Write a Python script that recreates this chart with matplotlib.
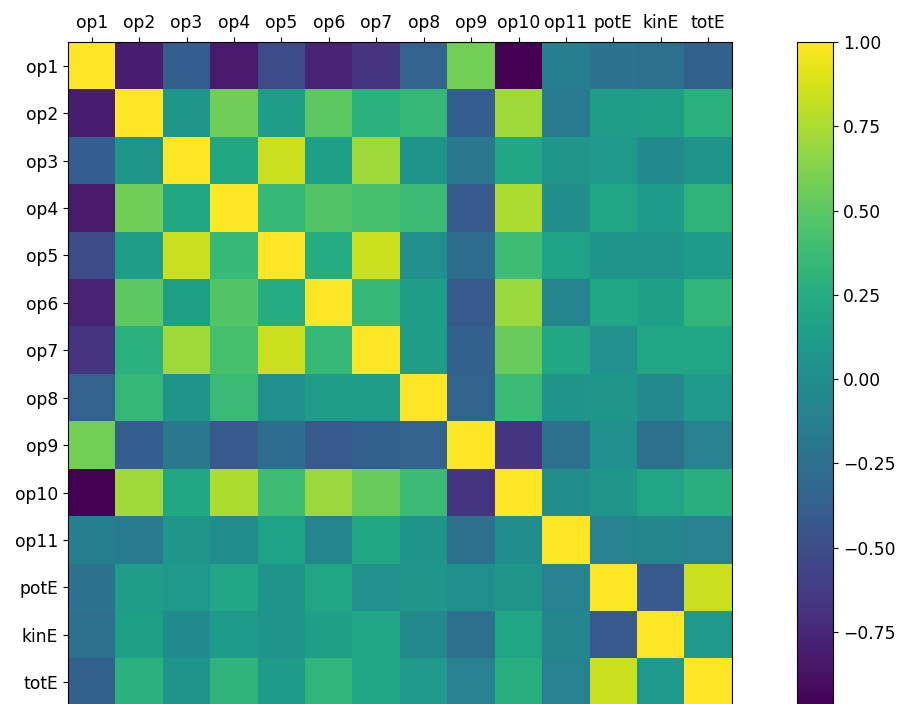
import matplotlib
matplotlib.use("Agg")
import matplotlib.pyplot as plt
import numpy as np

labels = ["op1", "op2", "op3", "op4", "op5", "op6", "op7", "op8", "op9", "op10", "op11", "potE", "kinE", "totE"]

# correlation matrix, rows/cols in the order of labels
corr = [
    [1.00, -0.81, -0.38, -0.83, -0.52, -0.78, -0.67, -0.35, 0.58, -0.97, -0.12, -0.22, -0.24, -0.36],
    [-0.81, 1.00, 0.07, 0.57, 0.13, 0.50, 0.29, 0.34, -0.38, 0.72, -0.16, 0.13, 0.15, 0.29],
    [-0.38, 0.07, 1.00, 0.21, 0.84, 0.15, 0.72, 0.05, -0.18, 0.21, 0.07, 0.09, -0.02, 0.05],
    [-0.83, 0.57, 0.21, 1.00, 0.35, 0.47, 0.43, 0.37, -0.42, 0.76, 0.00, 0.19, 0.11, 0.31],
    [-0.52, 0.13, 0.84, 0.35, 1.00, 0.25, 0.84, 0.02, -0.26, 0.39, 0.17, 0.05, 0.05, 0.11],
    [-0.78, 0.50, 0.15, 0.47, 0.25, 1.00, 0.35, 0.13, -0.42, 0.70, -0.08, 0.19, 0.15, 0.33],
    [-0.67, 0.29, 0.72, 0.43, 0.84, 0.35, 1.00, 0.13, -0.36, 0.54, 0.21, 0.03, 0.19, 0.19],
    [-0.35, 0.34, 0.05, 0.37, 0.02, 0.13, 0.13, 1.00, -0.34, 0.37, 0.05, 0.07, -0.04, 0.09],
    [0.58, -0.38, -0.18, -0.42, -0.26, -0.42, -0.36, -0.34, 1.00, -0.67, -0.24, 0.02, -0.24, -0.10],
    [-0.97, 0.72, 0.21, 0.76, 0.39, 0.70, 0.54, 0.37, -0.67, 1.00, 0.00, 0.07, 0.19, 0.27],
    [-0.12, -0.16, 0.07, 0.00, 0.17, -0.08, 0.21, 0.05, -0.24, 0.00, 1.00, -0.10, -0.06, -0.10],
    [-0.22, 0.13, 0.09, 0.19, 0.05, 0.19, 0.03, 0.07, 0.02, 0.07, -0.10, 1.00, -0.42, 0.84],
    [-0.24, 0.15, -0.02, 0.11, 0.05, 0.15, 0.19, -0.04, -0.24, 0.19, -0.06, -0.42, 1.00, 0.09],
    [-0.36, 0.29, 0.05, 0.31, 0.11, 0.33, 0.19, 0.09, -0.10, 0.27, -0.10, 0.84, 0.09, 1.00],
]

fs = 12.3

fig = plt.figure(figsize=(9, 7.04), dpi=100)
ax = fig.add_axes([68 / 900, -2 / 704, 664 / 900, 664 / 704])
cax = fig.add_axes([797 / 900, -2 / 704, 36 / 900, 664 / 704])

im = ax.matshow(np.array(corr), cmap="viridis", aspect="auto")
ax.set_xticks(range(len(labels)))
ax.set_yticks(range(len(labels)))
ax.set_xticklabels(labels, fontsize=fs)
ax.set_yticklabels(labels, fontsize=fs)

cb = fig.colorbar(im, cax=cax)
cb.ax.tick_params(labelsize=fs)

fig.savefig("out.png", dpi=100)
